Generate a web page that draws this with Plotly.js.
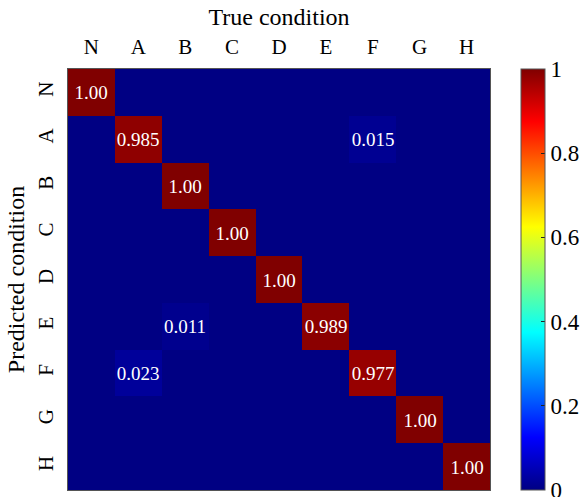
<!DOCTYPE html>
<html>
<head>
<meta charset="utf-8">
<script src="https://cdn.plot.ly/plotly-3.0.1.min.js"></script>
<style>html,body{margin:0;padding:0;background:#fff;}#chart{width:582px;height:497px;}</style>
</head>
<body>
<div id="chart"></div>
<script>
const trueLabels = ['N','A','B','C','D','E','F','G','H'];
const predLabels = ['N','A','B','C','D','E','F','G','H'];
// rows = predicted condition, columns = true condition
const rowN = [1.00, 0, 0, 0, 0, 0, 0, 0, 0];
const rowA = [0, 0.985, 0, 0, 0, 0, 0.015, 0, 0];
const rowB = [0, 0, 1.00, 0, 0, 0, 0, 0, 0];
const rowC = [0, 0, 0, 1.00, 0, 0, 0, 0, 0];
const rowD = [0, 0, 0, 0, 1.00, 0, 0, 0, 0];
const rowE = [0, 0, 0.011, 0, 0, 0.989, 0, 0, 0];
const rowF = [0, 0.023, 0, 0, 0, 0, 0.977, 0, 0];
const rowG = [0, 0, 0, 0, 0, 0, 0, 1.00, 0];
const rowH = [0, 0, 0, 0, 0, 0, 0, 0, 1.00];
const cbTicks = [0, 0.2, 0.4, 0.6, 0.8, 1];
const cbTickText = ['0', '0.2', '0.4', '0.6', '0.8', '1'];

const z = [rowN,rowA,rowB,rowC,rowD,rowE,rowF,rowG,rowH];
const txt = z.map(r => r.map(v => v === 0 ? '' : (v === 1 ? '1.00' : v.toFixed(3))));

const jet = [[0,'#000083'],[0.125,'#0000ff'],[0.375,'#00ffff'],[0.625,'#ffff00'],[0.875,'#ff0000'],[1,'#800000']];
const serif = 'Liberation Serif, Times New Roman, serif';

const trace = {
  type: 'heatmap',
  x: trueLabels,
  y: predLabels,
  z: z,
  text: txt,
  texttemplate: '%{text}',
  textfont: {family: serif, size: 19, color: '#ffffff'},
  colorscale: jet,
  zmin: 0, zmax: 1,
  xgap: 0, ygap: 0,
  hoverinfo: 'skip',
  colorbar: {
    x: 1.073, xanchor: 'left',
    y: 0.5, yanchor: 'middle',
    len: 1, lenmode: 'fraction',
    thickness: 24,
    outlinewidth: 1, outlinecolor: '#555',
    tickmode: 'array',
    tickvals: cbTicks,
    ticktext: cbTickText,
    ticklabeloverflow: 'allow',
    ticks: 'inside', ticklen: 4, tickcolor: '#222',
    tickfont: {family: serif, size: 23, color: '#000'},
    ypad: 0, xpad: 0
  }
};

const layout = {
  width: 582, height: 497,
  margin: {l: 68, r: 92, t: 69, b: 7, autoexpand: false},
  paper_bgcolor: '#fff', plot_bgcolor: '#fff',
  xaxis: {
    side: 'top',
    type: 'category',
    title: {text: 'True condition', font: {family: serif, size: 24, color: '#000'}, standoff: 2},
    tickfont: {family: serif, size: 21, color: '#000'},
    showline: true, linecolor: '#555', linewidth: 1, mirror: true,
    ticks: 'outside', ticklen: 6, tickcolor: 'rgba(0,0,0,0)',
    showgrid: false, zeroline: false, fixedrange: true
  },
  yaxis: {
    type: 'category',
    autorange: 'reversed',
    title: {text: 'Predicted condition', font: {family: serif, size: 24, color: '#000'}, standoff: 2},
    tickfont: {family: serif, size: 21, color: '#000'},
    tickangle: -90,
    showline: true, linecolor: '#555', linewidth: 1, mirror: true,
    ticks: 'outside', ticklen: 6, tickcolor: 'rgba(0,0,0,0)',
    showgrid: false, zeroline: false, fixedrange: true
  },
  showlegend: false
};

Plotly.newPlot('chart', [trace], layout, {displayModeBar: false, staticPlot: true});
</script>
</body>
</html>
